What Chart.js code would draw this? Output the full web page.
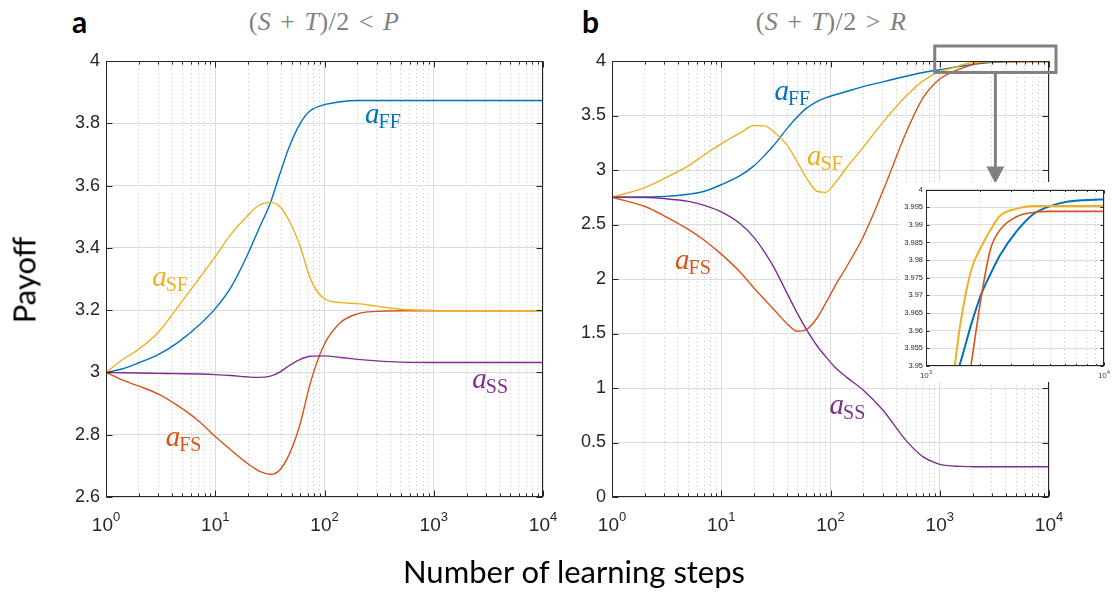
<!DOCTYPE html>
<html>
<head>
<meta charset="utf-8">
<script src="https://cdn.jsdelivr.net/npm/chart.js@4.4.1/dist/chart.umd.min.js"></script>
<style>
  html, body { margin: 0; padding: 0; background: #fff; }
  #fig { position: relative; width: 1112px; height: 594px; overflow: hidden; font-family: Lato, sans-serif; }
  #fig canvas { position: absolute; }
  .lbl { position: absolute; white-space: nowrap; line-height: 1; }
  .panel { font-weight: bold; font-size: 30px; color: #000; }
  .ttl { font-family: "Liberation Serif", serif; font-size: 26px; color: #808080; word-spacing: 2px; letter-spacing: 0.5px; transform: translateX(-50%); }
  .ttl i { font-style: italic; }
  .axis { font-size: 31px; color: #000; }
</style>
</head>
<body>
<div id="fig">
  <canvas id="chartA" width="560" height="520" style="left:0;top:40px;width:560px;height:520px"></canvas>
  <canvas id="chartB" width="552" height="520" style="left:560px;top:40px;width:552px;height:520px"></canvas>
  <canvas id="inset" width="212" height="200" style="left:900px;top:182px;width:212px;height:200px"></canvas>
  <div class="lbl panel" style="left:72px;top:6px">a</div>
  <div class="lbl panel" style="left:582px;top:6px">b</div>
  <div class="lbl ttl" style="left:324px;top:9px">(<i>S</i> + <i>T</i>)/2 &lt; <i>P</i></div>
  <div class="lbl ttl" style="left:831px;top:9px">(<i>S</i> + <i>T</i>)/2 &gt; <i>R</i></div>
  <div class="lbl axis" style="left:24px;top:280px;transform:translate(-50%,-50%) rotate(-90deg)">Payoff</div>
  <div class="lbl axis" style="left:574px;top:556px;transform:translateX(-50%)">Number of learning steps</div>
</div>
<script>
// ---- data ----
// panel a: (S+T)/2 < P
const stepsA = [1, 1.4, 2, 3, 4.5, 7, 10, 14, 19, 25, 32, 39, 48, 60, 74, 98, 140, 200, 300, 500, 1000, 3000, 10000];
const ffA = [3.000, 3.011, 3.031, 3.057, 3.095, 3.150, 3.205, 3.275, 3.365, 3.460, 3.545, 3.637, 3.728, 3.800, 3.840, 3.859, 3.869, 3.873, 3.873, 3.873, 3.873, 3.873, 3.873];
const fsA = [3.000, 2.976, 2.956, 2.931, 2.894, 2.845, 2.794, 2.750, 2.712, 2.684, 2.673, 2.687, 2.740, 2.836, 2.965, 3.085, 3.160, 3.188, 3.196, 3.198, 3.198, 3.198, 3.198];
const sfA = [3.000, 3.040, 3.075, 3.128, 3.208, 3.298, 3.372, 3.445, 3.497, 3.536, 3.546, 3.532, 3.484, 3.404, 3.302, 3.238, 3.224, 3.221, 3.213, 3.203, 3.199, 3.198, 3.198];
const ssA = [3.000, 2.999, 2.998, 2.997, 2.996, 2.995, 2.993, 2.990, 2.986, 2.984, 2.988, 3.001, 3.023, 3.042, 3.052, 3.053, 3.048, 3.042, 3.037, 3.033, 3.032, 3.032, 3.032];

// panel b: (S+T)/2 > R  (the inset zooms into the same series)
const stepsB = [1, 2, 3, 5, 7, 10, 15, 20, 25, 30, 40, 50, 60, 75, 90, 110, 140, 200, 300, 500, 700, 1000, 1250, 1450, 1550, 1800, 2050, 2300, 2600, 3200, 4000, 5000, 6200, 8000, 10000];
const ffB = [2.750, 2.752, 2.758, 2.778, 2.805, 2.865, 2.950, 3.040, 3.135, 3.222, 3.380, 3.490, 3.565, 3.628, 3.662, 3.690, 3.720, 3.765, 3.808, 3.862, 3.895, 3.920, 3.937, 3.9465, 3.9505, 3.962, 3.9705, 3.976, 3.9813, 3.9879, 3.993, 3.9953, 3.9965, 3.997, 3.9972];
const fsB = [2.750, 2.665, 2.580, 2.455, 2.355, 2.228, 2.060, 1.915, 1.810, 1.725, 1.590, 1.520, 1.535, 1.640, 1.775, 1.935, 2.110, 2.390, 2.800, 3.360, 3.660, 3.835, 3.890, 3.918, 3.929, 3.951, 3.970, 3.983, 3.9885, 3.9922, 3.9935, 3.9938, 3.9938, 3.9938, 3.9938];
const sfB = [2.750, 2.838, 2.922, 3.038, 3.140, 3.240, 3.342, 3.408, 3.405, 3.355, 3.228, 3.070, 2.930, 2.805, 2.795, 2.880, 3.021, 3.210, 3.435, 3.685, 3.815, 3.905, 3.930, 3.950, 3.961, 3.9774, 3.9839, 3.9885, 3.9925, 3.9945, 3.9953, 3.9953, 3.9953, 3.9953, 3.9953];
const ssB = [2.750, 2.748, 2.738, 2.712, 2.675, 2.615, 2.505, 2.380, 2.245, 2.115, 1.870, 1.680, 1.540, 1.390, 1.290, 1.190, 1.100, 0.980, 0.800, 0.510, 0.370, 0.300, 0.286, 0.282, 0.281, 0.279, 0.278, 0.278, 0.278, 0.278, 0.278, 0.278, 0.278, 0.278, 0.278];

// tick labels
const yTicksA = [2.6, 2.8, 3, 3.2, 3.4, 3.6, 3.8, 4];
const yTicksB = [0, 0.5, 1, 1.5, 2, 2.5, 3, 3.5, 4];
const yTicksInset = [3.95, 3.955, 3.96, 3.965, 3.97, 3.975, 3.98, 3.985, 3.99, 3.995, 4];

// ---- styling ----
const BLUE = '#0072BD', ORANGE = '#D95319', YELLOW = '#EDB120', PURPLE = '#7E2F8E';
const INK = '#262626';
const SANS = '"Liberation Sans", Arial, sans-serif';
Chart.defaults.font.family = SANS;

const isMajor = v => Math.abs(Math.log10(v) - Math.round(Math.log10(v))) < 1e-9;

function logTicks(lo, hi) {
  const t = [];
  for (let d = lo; d < hi; d *= 10) for (let k = 1; k < 10; k++) t.push(d * k);
  t.push(hi);
  return t;
}

function xScale(min, max, height) {
  return {
    type: 'logarithmic', min, max,
    afterBuildTicks: s => { s.ticks = logTicks(min, max).map(v => ({ value: v })); },
    afterFit: s => { s.height = height; s.paddingLeft = 0; s.paddingRight = 0; },
    ticks: { display: false, autoSkip: false },
    grid: { drawTicks: false, lineWidth: 1,
            color: c => (c.tick && !isMajor(c.tick.value)) ? 'rgba(0,0,0,0.22)' : '#dcdcdc' },
    border: { display: false, dash: c => (c.tick && !isMajor(c.tick.value)) ? [1, 3] : [] }
  };
}

function yScale(min, max, ticks, width, fontSize, padding) {
  return {
    type: 'linear', min, max,
    afterBuildTicks: s => { s.ticks = ticks.map(v => ({ value: v })); },
    afterFit: s => { s.width = width; },
    ticks: { padding, color: INK, font: { size: fontSize }, callback: v => String(+v.toFixed(3)) },
    grid: { drawTicks: false, color: '#dcdcdc', lineWidth: 1 },
    border: { display: false }
  };
}

function series(steps, vals, color, order, width) {
  return {
    data: steps.map((s, i) => ({ x: s, y: vals[i] })),
    borderColor: color, borderWidth: width, pointRadius: 0,
    cubicInterpolationMode: 'monotone', fill: false, order
  };
}

// white background (the inset covers part of panel b)
const whiteBg = {
  id: 'whiteBg',
  beforeDraw(chart) {
    const ctx = chart.ctx;
    ctx.save(); ctx.fillStyle = '#fff'; ctx.fillRect(0, 0, chart.width, chart.height); ctx.restore();
  }
};

// MATLAB-like box with inward ticks on all four sides
function frame(majorLen, minorLen) {
  return {
    id: 'frame',
    afterDatasetsDraw(chart) {
      const { ctx, chartArea: a, scales: { x, y } } = chart;
      const L = Math.round(a.left) + 0.5, R = Math.round(a.right) - 0.5;
      const T = Math.round(a.top) + 0.5, B = Math.round(a.bottom) - 0.5;
      ctx.save();
      ctx.strokeStyle = INK; ctx.lineWidth = 1;
      ctx.beginPath();
      x.ticks.forEach(t => {
        const px = Math.round(x.getPixelForValue(t.value)) + 0.5;
        const len = isMajor(t.value) ? majorLen : minorLen;
        ctx.moveTo(px, B); ctx.lineTo(px, B - len);
        ctx.moveTo(px, T); ctx.lineTo(px, T + len);
      });
      y.ticks.forEach(t => {
        const py = Math.round(y.getPixelForValue(t.value)) + 0.5;
        ctx.moveTo(L, py); ctx.lineTo(L + majorLen, py);
        ctx.moveTo(R, py); ctx.lineTo(R - majorLen, py);
      });
      ctx.stroke();
      ctx.strokeRect(L, T, R - L, B - T);
      ctx.restore();
    }
  };
}

// decade labels 10^k with a raised exponent
function decadeLabels(baseSize, expSize, gap, rise, color) {
  return {
    id: 'decadeLabels',
    afterDraw(chart) {
      const { ctx, chartArea: a, scales: { x } } = chart;
      ctx.save();
      ctx.fillStyle = color; ctx.textAlign = 'left'; ctx.textBaseline = 'alphabetic';
      x.ticks.forEach(t => {
        if (!isMajor(t.value)) return;
        const e = String(Math.round(Math.log10(t.value)));
        ctx.font = baseSize + 'px ' + SANS;
        const wb = ctx.measureText('10').width;
        ctx.font = expSize + 'px ' + SANS;
        const we = ctx.measureText(e).width;
        const left = x.getPixelForValue(t.value) - (wb + we) / 2, base = a.bottom + gap;
        ctx.font = baseSize + 'px ' + SANS;
        ctx.fillText('10', left, base);
        ctx.font = expSize + 'px ' + SANS;
        ctx.fillText(e, left + wb, base - rise);
      });
      ctx.restore();
    }
  };
}

// curve names, anchored in data coordinates
function curveLabels(items) {
  return {
    id: 'curveLabels',
    afterDatasetsDraw(chart) {
      const { ctx, scales: { x, y } } = chart;
      ctx.save();
      ctx.textBaseline = 'alphabetic';
      items.forEach(it => {
        const px = x.getPixelForValue(it.x), py = y.getPixelForValue(it.y);
        ctx.fillStyle = it.color;
        ctx.font = 'italic 29px "Liberation Serif", serif';
        ctx.fillText('a', px, py);
        const w = ctx.measureText('a').width;
        ctx.font = '20px "Liberation Serif", serif';
        ctx.fillText(it.sub, px + w - 1, py + 5);
      });
      ctx.restore();
    }
  };
}

// grey box around the zoomed region and the arrow down to the inset
const zoomMarker = {
  id: 'zoomMarker',
  afterDraw(chart) {
    const { ctx, scales: { x, y } } = chart;
    const l = x.getPixelForValue(1000) - 5, r = x.getPixelForValue(10000) + 7;
    const t = y.getPixelForValue(4) - 15, b = y.getPixelForValue(3.95) + 6;
    const mx = (l + r) / 2, tip = b + 111;
    ctx.save();
    ctx.strokeStyle = '#808080'; ctx.fillStyle = '#808080'; ctx.lineWidth = 3;
    ctx.strokeRect(l, t, r - l, b - t);
    ctx.beginPath(); ctx.moveTo(mx, b); ctx.lineTo(mx, tip - 14); ctx.stroke();
    ctx.beginPath(); ctx.moveTo(mx - 9, tip - 17); ctx.lineTo(mx + 9, tip - 17); ctx.lineTo(mx, tip); ctx.closePath(); ctx.fill();
    ctx.restore();
  }
};

function baseOptions(xs, ys, padding) {
  return {
    responsive: false, animation: false, events: [],
    layout: { padding },
    plugins: { legend: { display: false }, tooltip: { enabled: false } },
    scales: { x: xs, y: ys }
  };
}

new Chart(document.getElementById('chartA'), {
  type: 'line',
  data: { datasets: [
    series(stepsA, ffA, BLUE, 3, 1.4),
    series(stepsA, fsA, ORANGE, 2, 1.4),
    series(stepsA, sfA, YELLOW, 1, 1.4),
    series(stepsA, ssA, PURPLE, 0, 1.4)
  ] },
  options: baseOptions(xScale(1, 10000, 63), yScale(2.6, 4, yTicksA, 106, 18, 6),
                       { top: 21, right: 17, left: 0, bottom: 0 }),
  plugins: [whiteBg, frame(6, 3), decadeLabels(19, 13, 34, 10, INK), curveLabels([
    { x: 235, y: 3.80, sub: 'FF', color: BLUE },
    { x: 2.65, y: 3.277, sub: 'SF', color: YELLOW },
    { x: 3.52, y: 2.764, sub: 'FS', color: ORANGE },
    { x: 2254, y: 2.95, sub: 'SS', color: PURPLE }
  ])]
});

new Chart(document.getElementById('chartB'), {
  type: 'line',
  data: { datasets: [
    series(stepsB, ffB, BLUE, 3, 1.4),
    series(stepsB, fsB, ORANGE, 2, 1.4),
    series(stepsB, sfB, YELLOW, 1, 1.4),
    series(stepsB, ssB, PURPLE, 0, 1.4)
  ] },
  options: baseOptions(xScale(1, 10000, 63), yScale(0, 4, yTicksB, 52, 18, 6),
                       { top: 21, right: 63, left: 0, bottom: 0 }),
  plugins: [whiteBg, frame(6, 3), decadeLabels(19, 13, 34, 10, INK), curveLabels([
    { x: 30.7, y: 3.642, sub: 'FF', color: BLUE },
    { x: 60.8, y: 3.046, sub: 'SF', color: YELLOW },
    { x: 3.78, y: 2.089, sub: 'FS', color: ORANGE },
    { x: 98, y: 0.761, sub: 'SS', color: PURPLE }
  ]), zoomMarker]
});

new Chart(document.getElementById('inset'), {
  type: 'line',
  data: { datasets: [
    series(stepsB, ffB, BLUE, 3, 2),
    series(stepsB, fsB, ORANGE, 2, 1.6),
    series(stepsB, sfB, YELLOW, 1, 2),
    series(stepsB, ssB, PURPLE, 0, 2)
  ] },
  options: baseOptions(xScale(1000, 10000, 16), yScale(3.95, 4, yTicksInset, 26, 7.5, 3),
                       { top: 5, right: 8, left: 0, bottom: 0 }),
  plugins: [whiteBg, frame(3, 1.5), decadeLabels(8, 6, 12, 4, '#444')]
});
</script>
</body>
</html>
